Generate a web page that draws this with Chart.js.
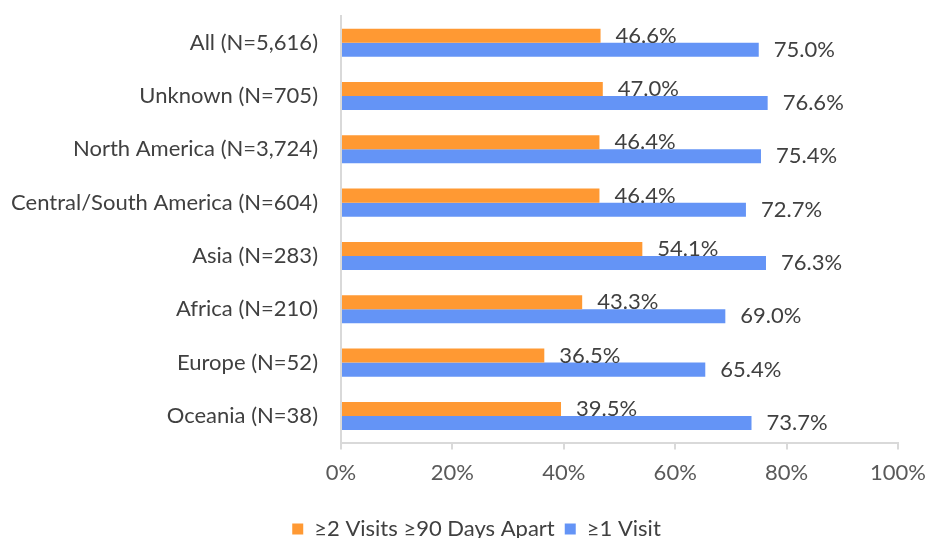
<!DOCTYPE html>
<html>
<head>
<meta charset="utf-8">
<script src="https://cdn.jsdelivr.net/npm/chart.js@4/dist/chart.umd.min.js"></script>
<style>
  html, body { margin: 0; padding: 0; background: #fff; }
  #wrap { width: 929px; height: 538px; position: relative; }
</style>
</head>
<body>
<div id="wrap"><canvas id="visits-chart"></canvas></div>
<script>
const regions = [
  'All (N=5,616)',
  'Unknown (N=705)',
  'North America (N=3,724)',
  'Central/South America (N=604)',
  'Asia (N=283)',
  'Africa (N=210)',
  'Europe (N=52)',
  'Oceania (N=38)'
];
const twoVisits = [46.6, 47.0, 46.4, 46.4, 54.1, 43.3, 36.5, 39.5];
const oneVisit = [75.0, 76.6, 75.4, 72.7, 76.3, 69.0, 65.4, 73.7];
const seriesNames = ['\u22652 Visits \u226590 Days Apart', '\u22651 Visit'];

const fontFamily = "Lato, 'Open Sans', sans-serif";
const colors = { two: '#FF9933', one: '#6494F6', axis: '#D9D9D9', text: '#404040', tick: '#595959' };

// value labels written just past the end of every bar
const barLabels = {
  id: 'barLabels',
  afterDatasetsDraw(chart) {
    const ctx = chart.ctx;
    ctx.save();
    ctx.font = `22px ${fontFamily}`;
    ctx.fillStyle = colors.text;
    ctx.textAlign = 'left';
    ctx.textBaseline = 'middle';
    chart.data.datasets.forEach((ds, i) => {
      chart.getDatasetMeta(i).data.forEach((bar, j) => {
        ctx.fillText(ds.data[j].toFixed(1) + '%', bar.x + 15, bar.y);
      });
    });
    ctx.restore();
  }
};

// nudge the legend a little right and down from where the layout puts it
const legendNudge = {
  id: 'legendNudge',
  afterLayout(chart) {
    const lg = chart.legend;
    lg.left += 24;
    lg.top += 12;
    lg.bottom += 12;
  }
};

new Chart(document.getElementById('visits-chart'), {
  type: 'bar',
  data: {
    labels: regions,
    datasets: [
      { label: seriesNames[0], data: twoVisits, backgroundColor: colors.two },
      { label: seriesNames[1], data: oneVisit, backgroundColor: colors.one }
    ]
  },
  options: {
    indexAxis: 'y',
    responsive: true,
    maintainAspectRatio: false,
    animation: false,
    categoryPercentage: 0.526,
    barPercentage: 1,
    layout: { padding: { top: 16, right: 0, left: 0, bottom: 0 } },
    plugins: {
      legend: {
        position: 'bottom',
        labels: {
          boxWidth: 11,
          boxHeight: 11,
          padding: 10,
          color: colors.text,
          font: { family: fontFamily, size: 22 }
        }
      },
      tooltip: { enabled: false }
    },
    scales: {
      x: {
        min: 0,
        max: 100,
        ticks: {
          stepSize: 20,
          padding: 10,
          color: colors.tick,
          font: { family: fontFamily, size: 22 },
          callback: (v) => v + '%'
        },
        grid: { drawOnChartArea: false, drawTicks: true, tickLength: 7, color: colors.axis, lineWidth: 2 },
        border: { display: true, color: colors.axis, width: 2 },
        afterFit: (scale) => { scale.paddingRight = 31; }
      },
      y: {
        ticks: {
          padding: 0,
          color: colors.text,
          font: { family: fontFamily, size: 22 }
        },
        // invisible tick marks keep the gap between the region names and the axis
        grid: { drawOnChartArea: false, drawTicks: true, tickLength: 23, color: 'rgba(0,0,0,0)' },
        border: { display: true, color: colors.axis, width: 2 },
        afterFit: (scale) => {
          scale.width = 341;
          scale.paddingTop = 0;
        }
      }
    }
  },
  plugins: [barLabels, legendNudge]
});
</script>
</body>
</html>
